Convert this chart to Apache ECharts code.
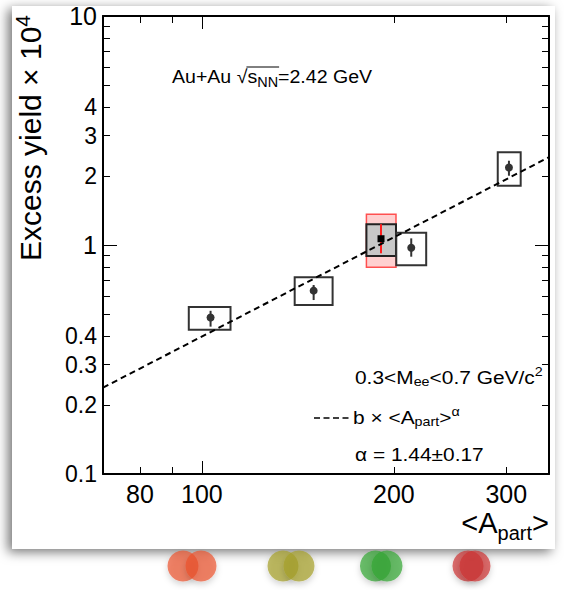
<!DOCTYPE html>
<html>
<head>
<meta charset="utf-8">
<title>Excess yield vs Apart</title>
<script src="https://cdn.jsdelivr.net/npm/echarts@6/dist/echarts.min.js"></script>
<style>
  html, body { margin: 0; padding: 0; background: #ffffff; }
  #chart { width: 564px; height: 590px; }
</style>
</head>
<body>
<div id="chart"></div>
<script>
// Axis ranges (log-log)
const xMin = 70, xMax = 350;
const yMin = 0.1, yMax = 10;

// Tick / label positions
const xLabelVals = [80, 100, 200, 300];
const xMajorTicks = [100];
const xMinorTicks = [80, 90, 200, 300];
const yLabelVals = [0.1, 0.2, 0.3, 0.4, 1, 2, 3, 4, 10];
const yMajorTicks = [1, 10];
const yMinorTicks = [0.2, 0.3, 0.4, 0.5, 0.6, 0.7, 0.8, 0.9, 2, 3, 4, 5, 6, 7, 8, 9];

// Centrality classes (circles, open systematic boxes)
const apartC   = [103.2, 149.7, 212.9, 302.9];
const yieldC   = [0.482, 0.632, 0.973, 2.18];
const statLoC  = [0.440, 0.575, 0.889, 2.007];
const statHiC  = [0.516, 0.669, 1.069, 2.334];
const sysXLoC  = [95.4, 139.8, 201.7, 290.9];
const sysXHiC  = [110.9, 160.3, 224.7, 316.0];
const sysLoC   = [0.426, 0.547, 0.815, 1.816];
const sysHiC   = [0.536, 0.723, 1.132, 2.54];

// Minimum-bias point (square, grey systematic box, red normalisation box)
const apartS   = [190.9];
const yieldS   = [1.065];
const statLoS  = [0.920];
const statHiS  = [1.233];
const sysXLoS  = [181.1];
const sysXHiS  = [201.5];
const sysLoS   = [0.895];
const sysHiS   = [1.231];
const normLoS  = [0.799];
const normHiS  = [1.361];

// Power-law fit b * Apart^alpha
const fitAlpha = 1.44;
const fitB = 5.25e-4;
const fitX = [xMin, xMax];

const FONT_NAME = 'Liberation Sans';
const FONT = "'Liberation Sans', Arial, Helvetica, sans-serif";

// text measuring, used to place the radical's overline
const measureCtx = document.createElement('canvas').getContext('2d');
function textWidth(t, size) {
  measureCtx.font = size + "px '" + FONT_NAME + "', Arial, sans-serif";
  return measureCtx.measureText(t).width;
}

function xAxisDef(position, ticks, tickLen, withLabels, withLine) {
  return {
    type: 'log', logBase: 10, min: xMin, max: xMax, position: position,
    axisLine: { show: withLine, onZero: false, lineStyle: { color: '#000', width: 2 } },
    axisTick: { show: true, inside: true, length: tickLen, customValues: ticks,
                lineStyle: { color: '#000', width: 1 } },
    axisLabel: withLabels ? {
      show: true, customValues: xLabelVals, margin: 7,
      fontFamily: FONT, fontSize: 25, color: '#000',
      formatter: v => String(Math.round(v))
    } : { show: false },
    splitLine: { show: false }, minorTick: { show: false }, minorSplitLine: { show: false }
  };
}

function yAxisDef(position, ticks, tickLen, withLabels, withLine) {
  return {
    type: 'log', logBase: 10, min: yMin, max: yMax, position: position,
    axisLine: { show: withLine, onZero: false, lineStyle: { color: '#000', width: 2 } },
    axisTick: { show: true, inside: true, length: tickLen, customValues: ticks,
                lineStyle: { color: '#000', width: 1 } },
    axisLabel: withLabels ? {
      show: true, customValues: yLabelVals, margin: 6,
      fontFamily: FONT, color: '#000',
      formatter: v => {
        const s = String(Number(v.toPrecision(3)));
        return (s === '1' || s === '10') ? '{big|' + s + '}' : '{sm|' + s + '}';
      },
      rich: {
        big: { fontFamily: FONT, fontSize: 25, color: '#000' },
        sm: { fontFamily: FONT, fontSize: 23, color: '#000' }
      }
    } : { show: false },
    splitLine: { show: false }, minorTick: { show: false }, minorSplitLine: { show: false }
  };
}

// Shared rich-text styles for annotations
function richSet(main, sub, subShift, supShift) {
  return {
    n:   { fontFamily: FONT, fontSize: main, color: '#000', lineHeight: main + 12 },
    sub: { fontFamily: FONT, fontSize: sub, color: '#000', lineHeight: main + 12, padding: [subShift, 0, 0, 0] },
    sup: { fontFamily: FONT, fontSize: sub, color: '#000', lineHeight: main + 12, padding: [0, 0, supShift, 0] }
  };
}

const pointsC = apartC.map((x, i) => [x, yieldC[i], statLoC[i], statHiC[i], sysXLoC[i], sysXHiC[i], sysLoC[i], sysHiC[i]]);
const pointsS = apartS.map((x, i) => [x, yieldS[i], statLoS[i], statHiS[i], sysXLoS[i], sysXHiS[i], sysLoS[i], sysHiS[i], normLoS[i], normHiS[i]]);

function rectFromCorners(api, x0, x1, y0, y1) {
  const a = api.coord([x0, y1]);
  const b = api.coord([x1, y0]);
  return { x: a[0], y: a[1], width: b[0] - a[0], height: b[1] - a[1] };
}

// Annotation text metrics
const ANN = 19, ANN_SUB = 14, ANN_SX = 1.1;
const SYS_SX = 1.03;
const sysTextX = 172, sysTextY = 77;
const sqrtStart = sysTextX + SYS_SX * (textWidth('Au+Au √', ANN) - 1);
const sqrtEnd = sysTextX + SYS_SX * (textWidth('Au+Au √s', ANN) + textWidth('NN', ANN_SUB) + 1);

const dotShadow = { shadowBlur: 6, shadowOffsetY: 3, shadowColor: 'rgba(0,0,0,0.25)' };
function dot(cx, fill) {
  return { type: 'circle', z: 5, shape: { cx: cx, cy: 566, r: 15.5 }, style: Object.assign({ fill: fill }, dotShadow) };
}

const option = {
  backgroundColor: 'transparent',
  animation: false,
  grid: { left: 103, top: 16, right: 15, bottom: 116, containLabel: false },
  xAxis: [
    xAxisDef('bottom', xMajorTicks, 13, true, true),
    xAxisDef('bottom', xMinorTicks, 7, false, false),
    xAxisDef('top', xMajorTicks, 13, false, true),
    xAxisDef('top', xMinorTicks, 7, false, false)
  ],
  yAxis: [
    yAxisDef('left', yMajorTicks, 14, true, true),
    yAxisDef('left', yMinorTicks, 7, false, false),
    yAxisDef('right', yMajorTicks, 14, false, true),
    yAxisDef('right', yMinorTicks, 7, false, false)
  ],
  series: [
    {
      name: 'min. bias',
      type: 'custom', xAxisIndex: 0, yAxisIndex: 0, z: 3,
      encode: { x: 0, y: 1 },
      data: pointsS,
      renderItem: (params, api) => {
        const x = api.value(0), y = api.value(1);
        const norm = rectFromCorners(api, api.value(4), api.value(5), api.value(8), api.value(9));
        const sys = rectFromCorners(api, api.value(4), api.value(5), api.value(6), api.value(7));
        const c = api.coord([x, y]);
        const lo = api.coord([x, api.value(2)]);
        const hi = api.coord([x, api.value(3)]);
        return {
          type: 'group',
          children: [
            { type: 'rect', shape: norm, style: { fill: 'rgba(255,120,120,0.35)', stroke: '#ff5050', lineWidth: 1.5 } },
            { type: 'rect', shape: sys, style: { fill: '#c8c8c8', stroke: '#222', lineWidth: 2 } },
            { type: 'line', shape: { x1: lo[0], y1: lo[1], x2: hi[0], y2: hi[1] }, style: { stroke: '#ff2020', lineWidth: 2 } },
            { type: 'rect', shape: { x: c[0] - 3.5, y: c[1] - 3.5, width: 7, height: 7 }, style: { fill: '#000' } }
          ]
        };
      }
    },
    {
      name: 'centrality classes',
      type: 'custom', xAxisIndex: 0, yAxisIndex: 0, z: 3,
      encode: { x: 0, y: 1 },
      data: pointsC,
      renderItem: (params, api) => {
        const x = api.value(0), y = api.value(1);
        const sys = rectFromCorners(api, api.value(4), api.value(5), api.value(6), api.value(7));
        const c = api.coord([x, y]);
        const lo = api.coord([x, api.value(2)]);
        const hi = api.coord([x, api.value(3)]);
        return {
          type: 'group',
          children: [
            { type: 'rect', shape: sys, style: { fill: 'none', stroke: '#333', lineWidth: 2 } },
            { type: 'line', shape: { x1: lo[0], y1: lo[1], x2: hi[0], y2: hi[1] }, style: { stroke: '#333', lineWidth: 2 } },
            { type: 'circle', shape: { cx: c[0], cy: c[1], r: 4 }, style: { fill: '#333' } }
          ]
        };
      }
    },
    {
      name: 'fit',
      type: 'line', xAxisIndex: 0, yAxisIndex: 0, z: 4,
      showSymbol: false, symbol: 'none',
      data: fitX.map(x => [x, fitB * Math.pow(x, fitAlpha)]),
      lineStyle: { color: '#000', width: 2, type: [6, 4] }
    }
  ],
  graphic: [
    // card with drop shadow behind the plot
    { type: 'rect', z: -10, shape: { x: 12, y: 6, width: 543, height: 543 },
      style: { fill: '#fff', shadowBlur: 12, shadowOffsetX: -4, shadowOffsetY: 3, shadowColor: 'rgba(0,0,0,0.55)' } },
    // axis titles
    { type: 'text', x: 30, y: 15, rotation: Math.PI / 2, z: 10,
      style: { text: '{n|Excess yield × 10}{sup|4}', align: 'right', verticalAlign: 'middle',
               rich: richSet(30, 21, 0, 16) } },
    { type: 'text', x: 549, y: 523, z: 10,
      style: { text: '{n|<A}{sub|part}{n|>}', align: 'right', verticalAlign: 'middle',
               rich: richSet(29, 20, 20, 0) } },
    // collision system, with the overline of the square root
    { type: 'text', x: sysTextX, y: sysTextY, scaleX: SYS_SX, z: 10,
      style: { text: '{n|Au+Au √s}{sub|NN}{n|=2.42 GeV}', align: 'left', verticalAlign: 'middle',
               rich: richSet(ANN, ANN_SUB, 10, 0) } },
    { type: 'line', z: 10, shape: { x1: sqrtStart, y1: sysTextY - 10, x2: sqrtEnd, y2: sysTextY - 10 },
      style: { stroke: '#000', lineWidth: 1 } },
    // mass window and fit annotations
    { type: 'text', x: 355, y: 377, scaleX: ANN_SX, z: 10,
      style: { text: '{n|0.3<M}{sub|ee}{n|<0.7 GeV/c}{sup|2}', align: 'left', verticalAlign: 'middle',
               rich: richSet(ANN, ANN_SUB - 1, 10, 10) } },
    { type: 'line', z: 10, shape: { x1: 314, y1: 418, x2: 349, y2: 418 },
      style: { stroke: '#000', lineWidth: 1.5, lineDash: [6, 3.5] } },
    { type: 'text', x: 353, y: 417, scaleX: ANN_SX, z: 10,
      style: { text: '{n|b × <A}{sub|part}{n|>}{sup|α}', align: 'left', verticalAlign: 'middle',
               rich: richSet(ANN, ANN_SUB - 1, 10, 10) } },
    { type: 'text', x: 355, y: 454, scaleX: ANN_SX, z: 10,
      style: { text: '{n|α = 1.44±0.17}', align: 'left', verticalAlign: 'middle',
               rich: richSet(ANN, ANN_SUB - 1, 10, 10) } },
    // navigation dots under the card
    dot(183, 'rgba(236,80,42,0.68)'), dot(201, 'rgba(236,80,42,0.68)'),
    dot(283, 'rgba(165,160,40,0.7)'), dot(299, 'rgba(165,160,40,0.7)'),
    dot(375.5, 'rgba(50,165,50,0.7)'), dot(387, 'rgba(50,165,50,0.7)'),
    dot(468, 'rgba(205,50,50,0.7)'), dot(475, 'rgba(205,50,50,0.7)')
  ]
};

const chart = echarts.init(document.getElementById('chart'), null, { renderer: 'svg' });
chart.setOption(option);
</script>
</body>
</html>
